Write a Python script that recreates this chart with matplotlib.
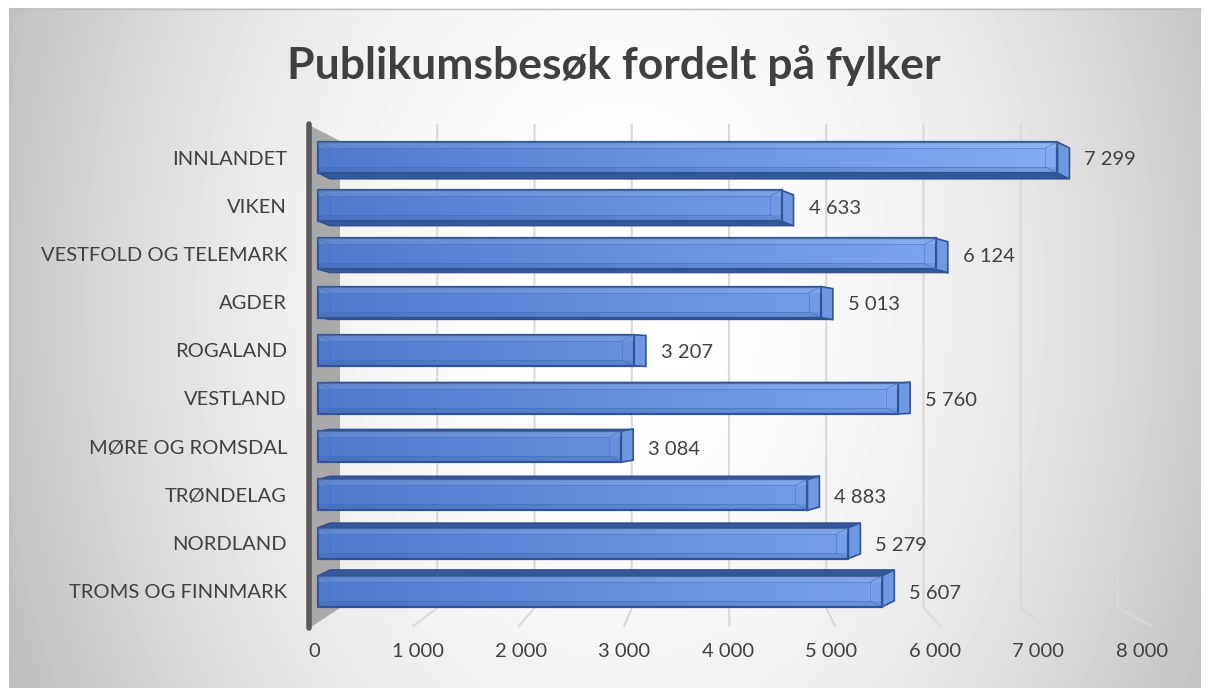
import numpy as np
import matplotlib.pyplot as plt
from matplotlib.patches import Polygon, Rectangle

# data
fylker = ["INNLANDET", "VIKEN", "VESTFOLD OG TELEMARK", "AGDER", "ROGALAND",
          "VESTLAND", "MØRE OG ROMSDAL", "TRØNDELAG", "NORDLAND", "TROMS OG FINNMARK"]
besok = [7299, 4633, 6124, 5013, 3207, 5760, 3084, 4883, 5279, 5607]
xticks = [0, 1000, 2000, 3000, 4000, 5000, 6000, 7000, 8000]
tittel = "Publikumsbesøk fordelt på fylker"

W, H = 1208, 688
plt.rcParams['font.family'] = ['Lato', 'DejaVu Sans']
TXT = "#404040"


def fmt(v):
    return f"{v:,}".replace(",", " ")


fig = plt.figure(figsize=(W / 100, H / 100), dpi=100)

# chart area background: radial grey gradient
bg = fig.add_axes([0, 0, 1, 1], zorder=-10)
yy, xx = np.mgrid[8:H, 9:1201]
r2 = ((xx - 620) / 640.0) ** 2 + ((yy - 300) / 900.0) ** 2
shade = np.clip(1 - 0.24 * r2, 0, 1)
bg.imshow(shade, cmap="gray", vmin=0, vmax=1, extent=(9, 1201, H, 8),
          aspect="auto", interpolation="bilinear")
bg.plot([9, 1201], [8.5, 8.5], color="#bfbfbf", lw=1)
bg.plot([9.5, 9.5], [8, H], color="#bfbfbf", lw=1)
bg.set_xlim(0, W)
bg.set_ylim(H, 0)
bg.set_axis_off()

# main axes, pixel frame: x 314..1142 for 0..8000, y 126..625
ax = fig.add_axes([314 / W, 1 - 625 / H, 828 / W, 499 / H])
ax.patch.set_visible(False)
for s in ax.spines.values():
    s.set_visible(False)

XPX = 828 / 8000.0     # px per unit
YPX = 48.2             # px per category


def px2x(px):
    return (px - 314) / XPX


def px2y(py):
    return (py - 157.5) / YPX


# back wall / floor gridlines in perspective
for k in xticks[1:]:
    n = k / 1000
    xb = px2x(340 + 97.25 * n)
    xf = px2x(308 + 105.4 * n)
    ax.plot([xb, xb, xf], [px2y(125), px2y(608), px2y(626)],
            color="#d9d9d9", lw=1.5, zorder=1, clip_on=False)

# side wall
wall = Polygon([(px2x(311), px2y(126)), (px2x(340), px2y(141)),
                (px2x(340), px2y(608)), (px2x(311), px2y(627))],
               closed=True, facecolor="#a9a9a9", edgecolor="none", zorder=1,
               clip_on=False)
ax.add_patch(wall)
ax.plot([px2x(309), px2x(309)], [px2y(124), px2y(628)], color="#5a5a5a",
        lw=4, solid_capstyle="round", zorder=2, clip_on=False)

# bars
h = 15.5 / YPX
dxu = 12 / XPX
x0 = px2x(318)
grad_lo = np.array([0x50, 0x7b, 0xcc]) / 255
grad_hi = np.array([0x88, 0xb2, 0xf8]) / 255
edge = "#2f5597"

ax.barh(range(len(fylker)), [v - dxu - x0 for v in besok], left=x0,
        height=2 * h, color="none", edgecolor="none", zorder=3)

for i, v in enumerate(besok):
    dy = 6 * (1 - i / 4.5) / YPX
    top, bot = i - h, i + h
    xe = v - dxu
    # top or bottom face
    if dy >= 0:
        face = [(x0, bot), (xe, bot), (v, bot + dy), (x0 + dxu, bot + dy)]
    else:
        face = [(x0, top), (xe, top), (v, top + dy), (x0 + dxu, top + dy)]
    ax.add_patch(Polygon(face, closed=True, facecolor="#34589c",
                         edgecolor="#2a4a88", lw=0.8, zorder=3))
    # end cap
    cap = [(xe, top), (v, top + dy), (v, bot + dy), (xe, bot)]
    ax.add_patch(Polygon(cap, closed=True, facecolor="#6f98e2",
                         edgecolor=edge, lw=1.2, zorder=3))
    # front face with horizontal gradient
    front = Rectangle((x0, top), xe - x0, 2 * h, facecolor="none",
                      edgecolor=edge, lw=1.6, zorder=5)
    ax.add_patch(front)
    t = np.linspace(x0 / 8000, xe / 8000, 64)[None, :, None]
    img = grad_lo + (grad_hi - grad_lo) * np.clip(t, 0, 1)
    im = ax.imshow(np.repeat(img, 2, axis=0), extent=(x0, xe, bot, top),
                   aspect="auto", interpolation="bilinear", zorder=4)
    im.set_clip_path(front)
    # bevel
    ins = 6 / YPX
    ax.add_patch(Rectangle((x0 + dxu, top + ins), xe - x0 - 2 * dxu, 2 * h - 2 * ins,
                           facecolor="none", edgecolor="#4470c0", lw=0.7,
                           alpha=0.5, zorder=5))
    ax.add_patch(Rectangle((x0, top), xe - x0, ins, facecolor="white",
                           edgecolor="none", alpha=0.10, zorder=5))
    ax.add_patch(Rectangle((x0, bot - ins), xe - x0, ins, facecolor="#1f3d7a",
                           edgecolor="none", alpha=0.12, zorder=5))
    for (ax_, ay_), (bx_, by_) in [((x0, top), (x0 + dxu, top + ins)),
                                    ((x0, bot), (x0 + dxu, bot - ins)),
                                    ((xe, top), (xe - dxu, top + ins)),
                                    ((xe, bot), (xe - dxu, bot - ins))]:
        ax.plot([ax_, bx_], [ay_, by_], color="#4470c0", lw=0.7, alpha=0.6,
                zorder=5)
    # value label
    ax.text(v + 15 / XPX, i + 0.05, fmt(v), ha="left", va="center",
            fontsize=14.5, color=TXT, zorder=6)

ax.set_xlim(0, 8000)
ax.set_ylim(9.70, -0.654)
ax.set_yticks(range(len(fylker)))
ax.set_yticklabels(fylker)
ax.set_xticks(xticks)
ax.set_xticklabels([fmt(t) for t in xticks])
ax.tick_params(axis="y", length=0, pad=19.5, labelsize=14.5, labelcolor=TXT)
ax.tick_params(axis="x", length=0, pad=13, labelsize=14.5, labelcolor=TXT)

fig.text(614 / W, 1 - 79 / H, tittel, ha="center", va="baseline",
         fontsize=32, fontweight="bold", color=TXT)

fig.savefig("out.png", dpi=100)
